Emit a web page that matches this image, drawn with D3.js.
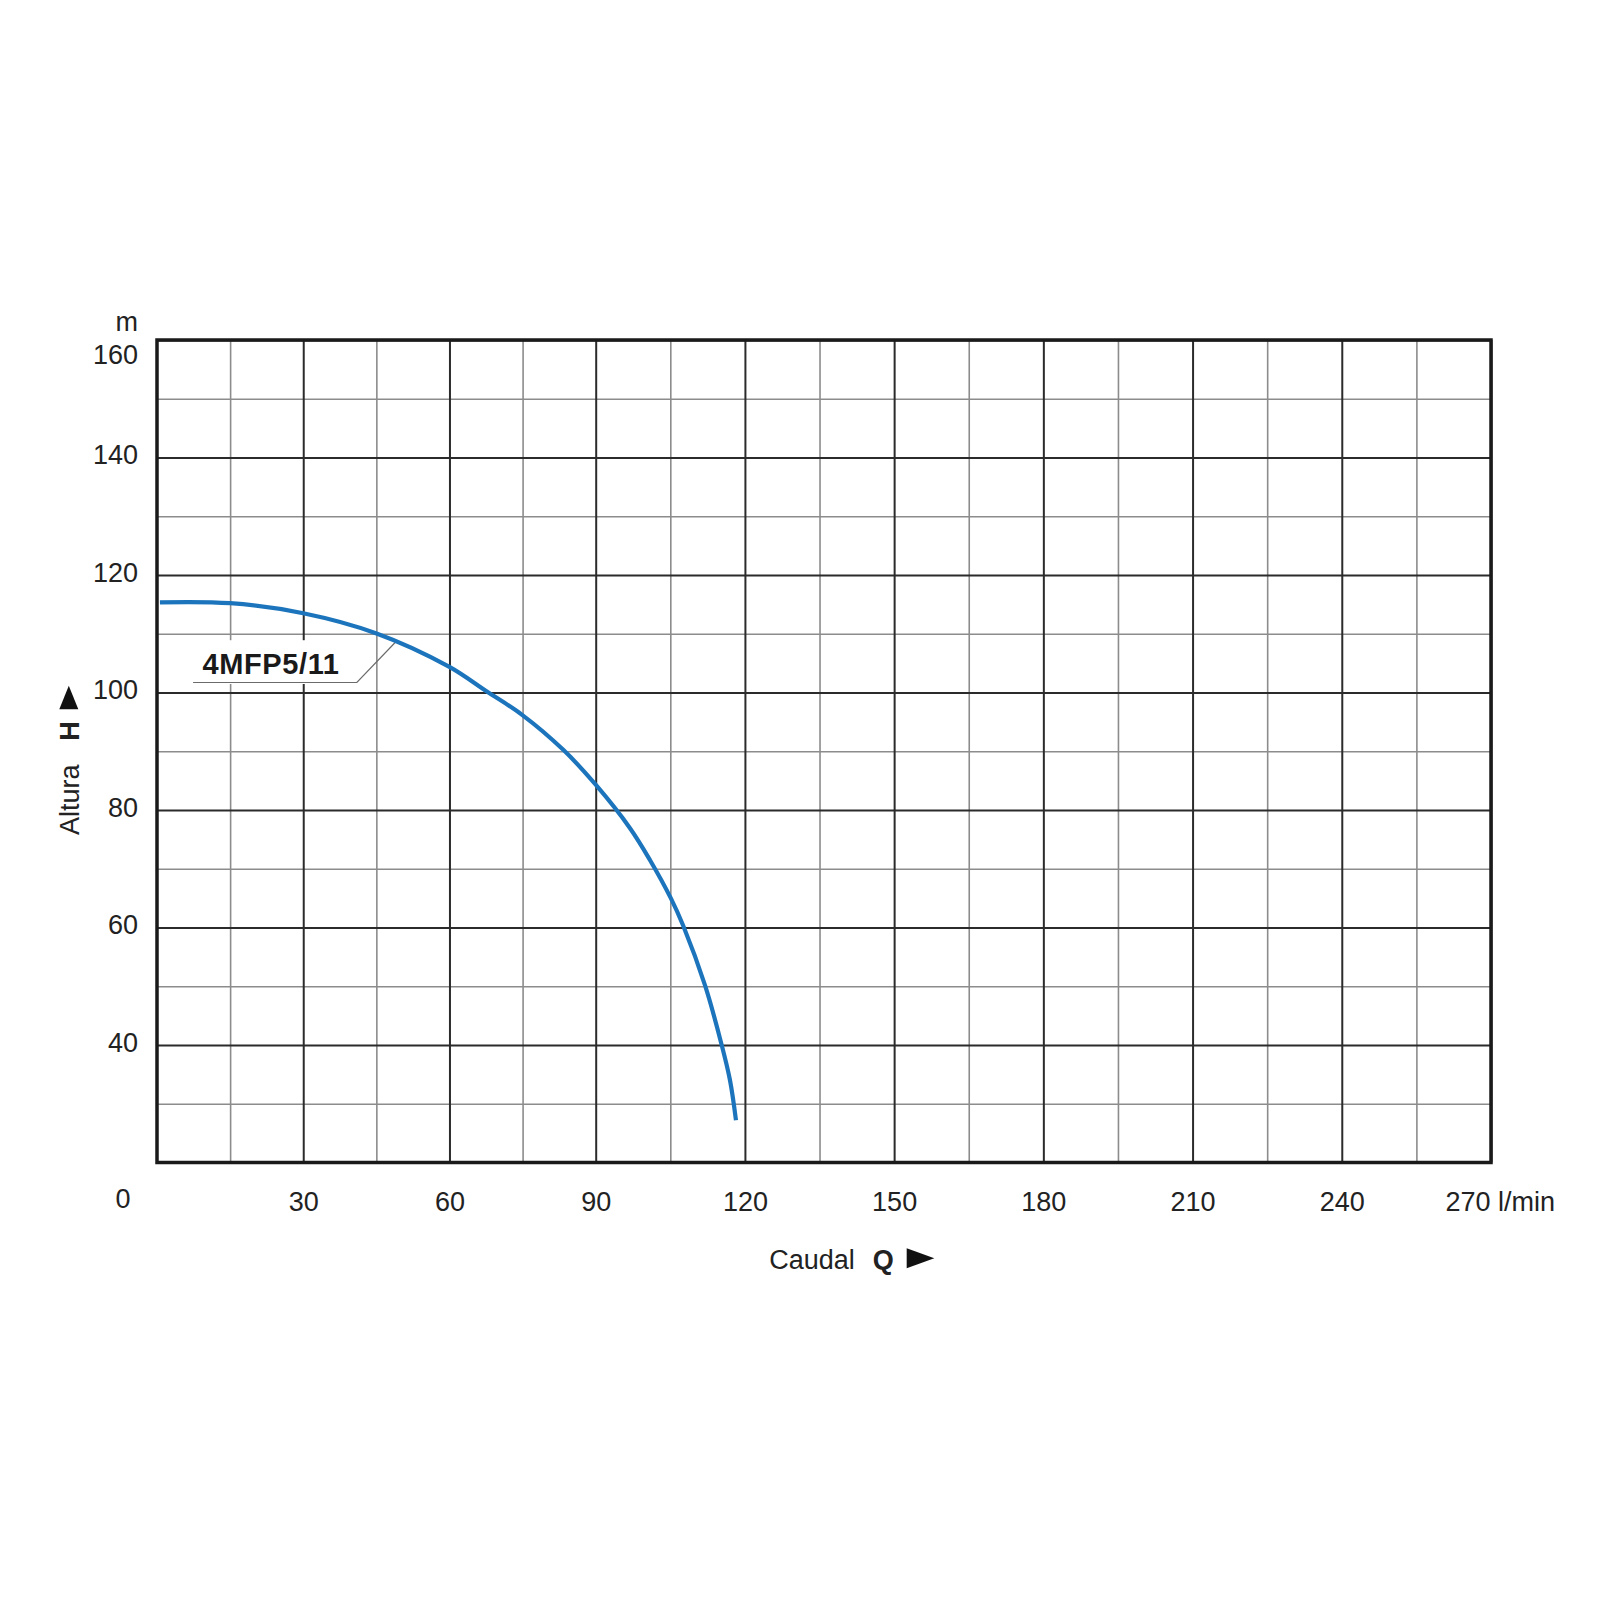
<!DOCTYPE html>
<html>
<head>
<meta charset="utf-8">
<script src="https://cdn.jsdelivr.net/npm/d3@7"></script>
<style>
  body { margin: 0; background: #fff; }
  svg { display: block; font-family: "Liberation Sans", Arial, Helvetica, sans-serif; }
</style>
</head>
<body>
<svg id="chart"></svg>
<script>
// Pump curve 4MFP5/11
const flow = [0.6, 15, 30, 44.9, 59.9, 67.6, 74.9, 83.4, 90, 96.9, 100.9, 105.1, 107.6, 112, 115.3, 117, 118.2];
const head = [115.35, 115.2, 113.5, 110.1, 104.4, 100.2, 96.2, 90.2, 84.3, 76.9, 71.5, 65.0, 60.3, 50.1, 40.1, 34.0, 27.2];

const xTicks = [30, 60, 90, 120, 150, 180, 210, 240, 270];
const xMinor = [15, 45, 75, 105, 135, 165, 195, 225, 255];
const yTicks = [40, 60, 80, 100, 120, 140, 160];
const yMinor = [30, 50, 70, 90, 110, 130, 150];
const modelName = "4MFP5/11";

// Chart container specs
const W = 1600, H = 1600;
const margin = { top: 340, left: 157 };
const width = 1334;
const height = 822.5;

const svg = d3.select("#chart")
  .attr("width", W)
  .attr("height", H)
  .attr("viewBox", `0 0 ${W} ${H}`);

svg.append("rect").attr("width", W).attr("height", H).attr("fill", "#fff");

const g = svg.append("g")
  .attr("transform", `translate(${margin.left},${margin.top})`);

// the printed grid is a bit tighter below 90 l/min than above it
const x = d3.scaleLinear().domain([0, 90, 270]).range([0, 438.7, width]);
const y = d3.scaleLinear().domain([20, 160]).range([height, 0]);

// Grid lines (minor first, then major on top)
function gridX(values, color, sw) {
  g.append("g")
    .attr("transform", `translate(0,${height})`)
    .call(d3.axisBottom(x).tickValues(values).tickSize(-height).tickFormat(""))
    .call(a => a.select(".domain").remove())
    .selectAll("line").attr("stroke", color).attr("stroke-width", sw);
}
function gridY(values, color, sw) {
  g.append("g")
    .call(d3.axisLeft(y).tickValues(values).tickSize(-width).tickFormat(""))
    .call(a => a.select(".domain").remove())
    .selectAll("line").attr("stroke", color).attr("stroke-width", sw);
}
gridX(xMinor, "#8c8c8c", 1.6);
gridY(yMinor, "#8c8c8c", 1.6);
gridX(xTicks, "#2b2b2b", 2);
gridY(yTicks, "#2b2b2b", 2);

// Frame
g.append("rect")
  .attr("x", 0).attr("y", 0)
  .attr("width", width).attr("height", height)
  .attr("fill", "none")
  .attr("stroke", "#1a1a1a")
  .attr("stroke-width", 3.5);

// X tick labels
const xAxis = g.append("g")
  .attr("transform", `translate(0,${height})`)
  .call(d3.axisBottom(x).tickValues(xTicks).tickSize(0).tickFormat(d => d));
xAxis.select(".domain").remove();
xAxis.selectAll("text")
  .attr("y", 48)
  .attr("dy", null)
  .attr("font-size", 27)
  .attr("fill", "#222");
xAxis.selectAll(".tick").filter(d => d === 270).select("text")
  .attr("text-anchor", "start")
  .attr("x", -46)
  .text("270 l/min");

// Y tick labels
const yAxis = g.append("g")
  .call(d3.axisLeft(y).tickValues(yTicks).tickSize(0).tickPadding(19));
yAxis.select(".domain").remove();
yAxis.selectAll("text")
  .attr("dy", d => d === 160 ? 23 : 6)
  .attr("font-size", 27)
  .attr("fill", "#222");

// origin "0" and unit "m"
g.append("text")
  .attr("x", x(0) - 34)
  .attr("y", height + 45.5)
  .attr("text-anchor", "middle")
  .attr("font-size", 27)
  .attr("fill", "#222")
  .text("0");

g.append("text")
  .attr("x", -19)
  .attr("y", -9.3)
  .attr("text-anchor", "end")
  .attr("font-size", 27)
  .attr("fill", "#222")
  .text("m");

// Model label with leader line
const tip = { q: 49.3, h: 108.9 };
const elbow = { q: 41, h: 101.7 };
const lineStart = 7.4;

g.append("rect")
  .attr("x", x(lineStart))
  .attr("y", y(108.9))
  .attr("width", x(elbow.q) - x(lineStart))
  .attr("height", y(elbow.h) - y(108.9) + 1.5)
  .attr("fill", "#fff");

g.append("path")
  .attr("d", d3.line()([
    [x(lineStart), y(elbow.h)],
    [x(elbow.q), y(elbow.h)],
    [x(tip.q), y(tip.h)]
  ]))
  .attr("fill", "none")
  .attr("stroke", "#6b6b6b")
  .attr("stroke-width", 1.2);

g.append("text")
  .attr("x", x(lineStart) + 9.5)
  .attr("y", y(elbow.h) - 8.7)
  .attr("font-size", 29)
  .attr("font-weight", "bold")
  .attr("letter-spacing", 0.6)
  .attr("fill", "#1a1a1a")
  .text(modelName);

// Pump curve
const pts = flow.map((q, i) => ({ q, h: head[i] }));
g.append("path")
  .datum(pts)
  .attr("d", d3.line().x(d => x(d.q)).y(d => y(d.h)).curve(d3.curveCatmullRom.alpha(0.5)))
  .attr("fill", "none")
  .attr("stroke", "#1c75bc")
  .attr("stroke-width", 4.2);

// Y-axis title: Altura H ▲
const yt = svg.append("text")
  .attr("transform", "translate(79,835) rotate(-90)")
  .attr("font-size", 27)
  .attr("fill", "#222");
yt.append("tspan").text("Altura");
yt.append("tspan").attr("x", 94.3).attr("font-weight", "bold").text("H");

svg.append("path")
  .attr("d", "M68.8,685.7L78.3,709.3L59.3,709.3Z")
  .attr("fill", "#111");

// X-axis title: Caudal Q ►
const xt = svg.append("text")
  .attr("x", 769.3)
  .attr("y", 1269.3)
  .attr("font-size", 27)
  .attr("fill", "#222");
xt.append("tspan").text("Caudal");
xt.append("tspan").attr("x", 872.7).attr("font-weight", "bold").text("Q");

svg.append("path")
  .attr("d", "M934.3,1258.3L906.7,1268.3L906.7,1248.3Z")
  .attr("fill", "#111");
</script>
</body>
</html>
